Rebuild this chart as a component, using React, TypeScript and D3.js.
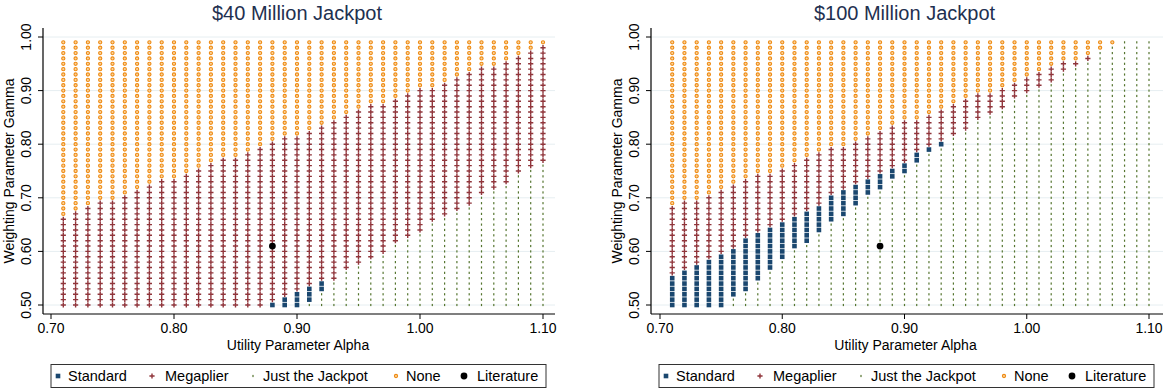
import React from "react";
import * as d3 from "d3";

// grid of parameter values
const alphaValues = [
  0.71, 0.72, 0.73, 0.74, 0.75, 0.76, 0.77, 0.78, 0.79, 0.8,
  0.81, 0.82, 0.83, 0.84, 0.85, 0.86, 0.87, 0.88, 0.89, 0.9,
  0.91, 0.92, 0.93, 0.94, 0.95, 0.96, 0.97, 0.98, 0.99, 1.0,
  1.01, 1.02, 1.03, 1.04, 1.05, 1.06, 1.07, 1.08, 1.09, 1.1,
];
const gammaValues = [
  0.5, 0.51, 0.52, 0.53, 0.54, 0.55, 0.56, 0.57, 0.58, 0.59,
  0.6, 0.61, 0.62, 0.63, 0.64, 0.65, 0.66, 0.67, 0.68, 0.69,
  0.7, 0.71, 0.72, 0.73, 0.74, 0.75, 0.76, 0.77, 0.78, 0.79,
  0.8, 0.81, 0.82, 0.83, 0.84, 0.85, 0.86, 0.87, 0.88, 0.89,
  0.9, 0.91, 0.92, 0.93, 0.94, 0.95, 0.96, 0.97, 0.98, 0.99,
];
const xTicks = [0.7, 0.8, 0.9, 1.0, 1.1];
const yTicks = [0.5, 0.6, 0.7, 0.8, 0.9, 1.0];

// per alpha column: gamma where Standard starts (Just the Jackpot below),
// where Megaplier starts, where None starts
const stdFrom40 = [
  0.5, 0.5, 0.5, 0.5, 0.5, 0.5, 0.5, 0.5, 0.5, 0.5,
  0.5, 0.5, 0.5, 0.5, 0.5, 0.5, 0.5, 0.5, 0.5, 0.5,
  0.51, 0.53, 0.55, 0.57, 0.58, 0.59, 0.6, 0.62, 0.63, 0.64,
  0.66, 0.67, 0.68, 0.69, 0.71, 0.72, 0.73, 0.75, 0.76, 0.77,
];
const megFrom40 = [
  0.5, 0.5, 0.5, 0.5, 0.5, 0.5, 0.5, 0.5, 0.5, 0.5,
  0.5, 0.5, 0.5, 0.5, 0.5, 0.5, 0.5, 0.51, 0.52, 0.53,
  0.54, 0.55, 0.55, 0.57, 0.58, 0.59, 0.6, 0.62, 0.63, 0.64,
  0.66, 0.67, 0.68, 0.69, 0.71, 0.72, 0.73, 0.75, 0.76, 0.77,
];
const noneFrom40 = [
  0.67, 0.68, 0.69, 0.7, 0.7, 0.71, 0.72, 0.73, 0.74, 0.74,
  0.75, 0.76, 0.77, 0.78, 0.78, 0.79, 0.8, 0.81, 0.82, 0.82,
  0.83, 0.84, 0.85, 0.86, 0.87, 0.88, 0.88, 0.89, 0.9, 0.91,
  0.91, 0.92, 0.93, 0.94, 0.95, 0.95, 0.96, 0.97, 0.98, 0.99,
];

const stdFrom100 = [
  0.5, 0.5, 0.5, 0.5, 0.5, 0.52, 0.53, 0.55, 0.57, 0.59,
  0.61, 0.62, 0.64, 0.66, 0.67, 0.69, 0.71, 0.72, 0.74, 0.75,
  0.77, 0.79, 0.8, 0.82, 0.83, 0.85, 0.86, 0.87, 0.89, 0.9,
  0.91, 0.92, 0.94, 0.95, 0.96, 0.98, 0.99, 1.0, 1.0, 1.0,
];
const megFrom100 = [
  0.56, 0.57, 0.58, 0.59, 0.6, 0.61, 0.63, 0.64, 0.65, 0.66,
  0.67, 0.68, 0.69, 0.71, 0.72, 0.73, 0.74, 0.75, 0.76, 0.77,
  0.79, 0.8, 0.81, 0.82, 0.83, 0.85, 0.86, 0.87, 0.89, 0.9,
  0.91, 0.92, 0.94, 0.95, 0.96, 0.98, 0.99, 1.0, 1.0, 1.0,
];
const noneFrom100 = [
  0.69, 0.7, 0.7, 0.71, 0.72, 0.73, 0.74, 0.75, 0.75, 0.76,
  0.77, 0.78, 0.79, 0.8, 0.8, 0.81, 0.82, 0.83, 0.84, 0.85,
  0.85, 0.86, 0.87, 0.88, 0.89, 0.9, 0.9, 0.91, 0.92, 0.93,
  0.94, 0.95, 0.96, 0.96, 0.97, 0.98, 0.99, 1.0, 1.0, 1.0,
];

const literature = { alpha: 0.88, gamma: 0.61 };

const legendLabels = ["Standard", "Megaplier", "Just the Jackpot", "None", "Literature"];

const colors = {
  Standard: "#1a476f",
  Megaplier: "#90353b",
  Jackpot: "#55752f",
  None: "#ee8a12",
  Literature: "#000000",
};

const FONT = "'Liberation Sans', Arial, sans-serif";

type Cell = { a: number; g: number; kind: string };

function classify(stdFrom: number[], megFrom: number[], noneFrom: number[]): Cell[] {
  const cells: Cell[] = [];
  alphaValues.forEach((a, i) => {
    const s = Math.round(stdFrom[i] * 100);
    const m = Math.round(megFrom[i] * 100);
    const n = Math.round(noneFrom[i] * 100);
    gammaValues.forEach((g) => {
      const k = Math.round(g * 100);
      let kind = "None";
      if (k < s) kind = "Jackpot";
      else if (k < m) kind = "Standard";
      else if (k < n) kind = "Megaplier";
      cells.push({ a, g, kind });
    });
  });
  return cells;
}

function Marker({ kind, x, y }: { kind: string; x: number; y: number }) {
  if (kind === "Standard")
    return <rect x={x - 2.3} y={y - 2.3} width={4.6} height={4.6} fill={colors.Standard} />;
  if (kind === "Megaplier")
    return (
      <path
        d={`M${x - 2.6},${y}H${x + 2.6}M${x},${y - 2.6}V${y + 2.6}`}
        stroke={colors.Megaplier}
        strokeWidth={1.4}
      />
    );
  if (kind === "Jackpot")
    return <rect x={x - 0.6} y={y - 1.1} width={1.2} height={2.2} fill={colors.Jackpot} />;
  if (kind === "None")
    return <circle cx={x} cy={y} r={1.6} fill="#fbd39b" stroke={colors.None} strokeWidth={1.1} />;
  return <circle cx={x} cy={y} r={3.4} fill={colors.Literature} />;
}

function Panel({
  title,
  axisX,
  range,
  stdFrom,
  megFrom,
  noneFrom,
}: {
  title: string;
  axisX: number;
  range: [number, number];
  stdFrom: number[];
  megFrom: number[];
  noneFrom: number[];
}) {
  const x = d3.scaleLinear().domain([0.7, 1.1]).range(range);
  const y = d3.scaleLinear().domain([0.5, 1.0]).range([305, 37]);
  const top = 28;
  const bottom = 314;
  const right = axisX + 512;
  const cells = classify(stdFrom, megFrom, noneFrom);
  const cy = (y(0.5) + y(1.0)) / 2;
  // legend key positions relative to the y axis, and gap key -> label
  const legendPos = [15, 109, 210, 353, 421];
  const legendGap = [10, 13, 10, 10, 13];

  return (
    <g>
      <text x={x(0.9)} y={20} textAnchor="middle" fontSize={20} fill="#1e3050" fontFamily={FONT}>
        {title}
      </text>
      {yTicks.map((t) => (
        <line key={"g" + t} x1={axisX} x2={right} y1={y(t)} y2={y(t)} stroke="#e6eef1" strokeWidth={1} />
      ))}
      {cells
        .filter((c) => c.kind === "Jackpot")
        .map((c, i) => <Marker key={"j" + i} kind={c.kind} x={x(c.a)} y={y(c.g)} />)}
      {cells
        .filter((c) => c.kind !== "Jackpot")
        .map((c, i) => <Marker key={"c" + i} kind={c.kind} x={x(c.a)} y={y(c.g)} />)}
      <Marker kind="Literature" x={x(literature.alpha)} y={y(literature.gamma)} />
      <line x1={axisX} x2={axisX} y1={top} y2={bottom} stroke="#000" strokeWidth={1.2} />
      <line x1={axisX} x2={right} y1={bottom} y2={bottom} stroke="#000" strokeWidth={1.2} />
      {yTicks.map((t) => (
        <g key={"yt" + t}>
          <line x1={axisX - 5} x2={axisX} y1={y(t)} y2={y(t)} stroke="#000" />
          <text
            transform={`translate(${axisX - 12.5},${y(t)}) rotate(-90)`}
            textAnchor="middle"
            fontSize={14}
            fontFamily={FONT}
            fill="#000"
          >
            {t.toFixed(2)}
          </text>
        </g>
      ))}
      {xTicks.map((t) => (
        <g key={"xt" + t}>
          <line x1={x(t)} x2={x(t)} y1={bottom} y2={bottom + 5} stroke="#000" />
          <text x={x(t)} y={333} textAnchor="middle" fontSize={14} fontFamily={FONT} fill="#000">
            {t.toFixed(2)}
          </text>
        </g>
      ))}
      <text x={x(0.9) + 1} y={350} textAnchor="middle" fontSize={14} fontFamily={FONT} fill="#000">
        Utility Parameter Alpha
      </text>
      <text
        transform={`translate(${axisX - 29},${cy}) rotate(-90)`}
        textAnchor="middle"
        fontSize={14}
        fontFamily={FONT}
        fill="#000"
      >
        Weighting Parameter Gamma
      </text>
      <rect x={axisX + 8} y={364.5} width={495} height={23} fill="#fff" stroke="#333" strokeWidth={1} />
      {legendLabels.map((lab, i) => {
        const kind = lab === "Just the Jackpot" ? "Jackpot" : lab;
        const mx = axisX + legendPos[i];
        return (
          <g key={lab}>
            <Marker kind={kind} x={mx} y={376} />
            <text x={mx + legendGap[i]} y={381} fontSize={14.5} fontFamily={FONT} fill="#000">
              {lab}
            </text>
          </g>
        );
      })}
    </g>
  );
}

export default function App() {
  return (
    <svg width={1164} height={390} style={{ position: "absolute", left: 0, top: 0, background: "#fff" }}>
      <Panel
        title="$40 Million Jackpot"
        axisX={43}
        range={[51, 543]}
        stdFrom={stdFrom40}
        megFrom={megFrom40}
        noneFrom={noneFrom40}
      />
      <Panel
        title="$100 Million Jackpot"
        axisX={651}
        range={[660, 1149]}
        stdFrom={stdFrom100}
        megFrom={megFrom100}
        noneFrom={noneFrom100}
      />
    </svg>
  );
}
